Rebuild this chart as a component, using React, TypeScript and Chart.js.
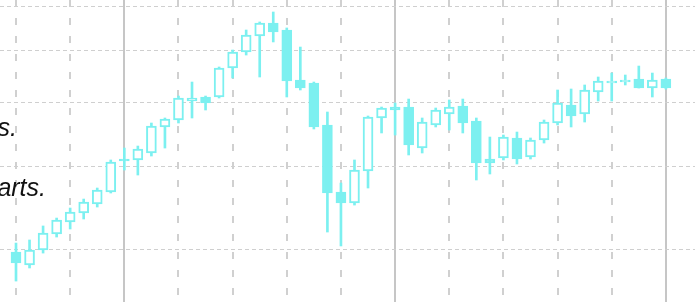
import React, { useEffect, useRef } from "react";
import { Chart, registerables } from "chart.js";

Chart.register(...registerables);

// ---- data ----
const candleIndex = Array.from({ length: 49 }, (_, i) => i);
const opens = [
  29.69, 28.37, 29.9, 31.61, 32.96, 34.01, 35.1, 36.6, 41.06, 40.92,
  41.93, 45.91, 47.04, 50.26, 50.97, 50.97, 56.39, 59.62, 63.05, 65.98,
  64.38, 54.08, 53.52, 46.23, 36.6, 35.22, 39.38, 47.37, 49.22, 49.22,
  42.66, 46.23, 48.03, 49.39, 46.88, 41.06, 41.2, 44.18, 41.35, 43.87,
  46.55, 49.57, 48.03, 51.86, 53.52, 53.7, 54.27, 52.59, 54.27,
];
const closes = [
  28.57, 29.9, 31.72, 33.19, 34.13, 35.34, 36.85, 40.63, 40.77, 42.52,
  46.07, 47.2, 50.79, 50.79, 49.91, 56.39, 59.62, 63.27, 65.98, 63.94,
  53.89, 52.59, 45.91, 36.47, 35.22, 39.51, 47.53, 49.05, 48.71, 43.11,
  46.71, 48.71, 49.22, 46.55, 40.49, 40.49, 44.33, 41.06, 43.87, 46.71,
  49.91, 47.7, 52.23, 53.89, 53.89, 54.08, 52.59, 54.08, 52.59,
];
const highs = [
  30.63, 30.96, 32.51, 33.42, 34.61, 35.71, 37.11, 40.92, 42.66, 42.96,
  46.55, 47.37, 51.14, 53.7, 51.14, 56.59, 60.04, 64.38, 66.21, 68.55,
  64.84, 60.67, 53.7, 48.37, 37.76, 40.92, 47.7, 49.22, 49.91, 50.61,
  47.37, 49.05, 50.44, 50.61, 47.37, 44.33, 44.64, 45.11, 44.18, 47.04,
  52.23, 52.41, 53.15, 54.65, 55.41, 55.03, 56.78, 55.41, 54.46,
];
const lows = [
  26.83, 28.08, 29.58, 31.28, 32.17, 33.31, 34.73, 36.47, 39.51, 38.83,
  41.49, 42.66, 46.55, 47.37, 48.71, 50.79, 54.46, 59.0, 54.65, 61.75,
  50.97, 52.23, 45.59, 31.83, 30.32, 34.97, 37.11, 44.96, 44.64, 41.64,
  41.93, 45.91, 45.43, 44.96, 38.16, 38.97, 40.92, 40.35, 41.06, 43.41,
  46.23, 45.91, 46.71, 50.26, 50.26, 53.15, 52.59, 50.97, 52.41,
];
const yTicks = [30, 40, 50, 60, 70];
const xTicks = [0, 4, 8, 12, 16, 20, 24, 28, 32, 36, 40, 44, 48];
const majorXTicks = [8, 28, 48];
const overlayLines = ["s.", "arts."];

const CYAN = "#7cf0f0";

export default function App() {
  const canvasRef = useRef<HTMLCanvasElement | null>(null);

  useEffect(() => {
    const canvas = canvasRef.current;
    if (!canvas) return;

    const bodies = candleIndex.map((i) => ({ x: i, y: [opens[i], closes[i]] }));
    const wicks = candleIndex.map((i) => ({ x: i, y: [lows[i], highs[i]] }));
    const bodyFill = candleIndex.map((i) => (closes[i] >= opens[i] ? "#ffffff" : CYAN));

    const chart = new Chart(canvas, {
      type: "bar",
      data: {
        datasets: [
          {
            data: wicks as any,
            backgroundColor: CYAN,
            borderWidth: 0,
            barThickness: 2,
            grouped: false,
            order: 2,
          },
          {
            data: bodies as any,
            backgroundColor: bodyFill,
            borderColor: CYAN,
            borderWidth: 2,
            borderSkipped: false,
            barThickness: 10,
            grouped: false,
            order: 1,
          },
        ],
      },
      options: {
        animation: false,
        responsive: false,
        maintainAspectRatio: false,
        layout: { padding: 0 },
        plugins: { legend: { display: false }, tooltip: { enabled: false } },
        scales: {
          x: {
            type: "linear",
            min: -1.182,
            max: 50.15,
            offset: false,
            afterBuildTicks: (scale: any) => {
              scale.ticks = xTicks.map((v) => ({ value: v }));
            },
            ticks: { display: false },
            grid: {
              offset: false,
              drawTicks: false,
              lineWidth: 2,
              color: (ctx: any) =>
                majorXTicks.includes(ctx.tick?.value) ? "#c6c6c6" : "#d0d0d0",
            },
            border: {
              display: false,
              dash: (ctx: any) =>
                majorXTicks.includes(ctx.tick?.value) ? [] : [7, 11],
            },
          },
          y: {
            type: "logarithmic",
            min: 24.94,
            max: 71.48,
            afterBuildTicks: (scale: any) => {
              scale.ticks = yTicks.map((v) => ({ value: v }));
            },
            ticks: { display: false },
            grid: {
              offset: false,
              drawTicks: false,
              lineWidth: 1,
              color: "#cfcfcf",
            },
            border: { display: false, dash: [4, 3] },
          },
        },
      } as any,
    });

    return () => chart.destroy();
  }, []);

  const textStyle: React.CSSProperties = {
    position: "absolute",
    right: 0,
    whiteSpace: "nowrap",
    fontFamily: '"Liberation Sans", Arial, sans-serif',
    fontStyle: "italic",
    fontSize: 25,
    lineHeight: "25px",
    color: "#111",
  };

  return (
    <div
      style={{
        position: "fixed",
        left: 0,
        top: 0,
        width: 695,
        height: 302,
        overflow: "hidden",
        background: "#fff",
      }}
    >
      <canvas ref={canvasRef} width={695} height={302} style={{ display: "block" }} />
      <div style={{ position: "absolute", left: 0, top: 115, width: 17, height: 30, overflow: "hidden" }}>
        <span style={textStyle}>{overlayLines[0]}</span>
      </div>
      <div style={{ position: "absolute", left: 0, top: 175, width: 46, height: 30, overflow: "hidden" }}>
        <span style={textStyle}>{overlayLines[1]}</span>
      </div>
    </div>
  );
}
